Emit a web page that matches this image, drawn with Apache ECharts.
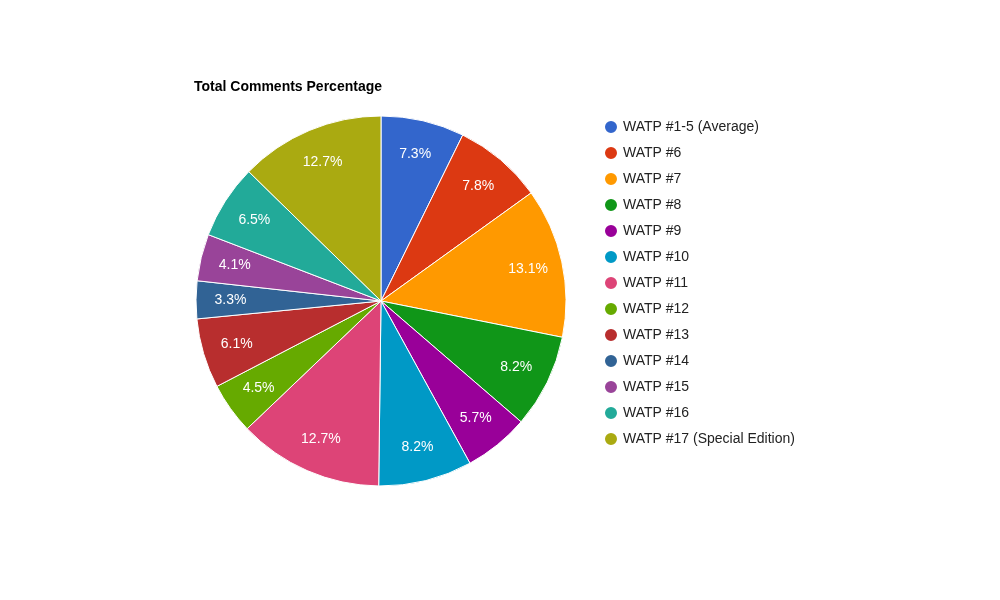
<!DOCTYPE html>
<html><head><meta charset="utf-8">
<script src="https://cdn.jsdelivr.net/npm/echarts@6/dist/echarts.min.js"></script>
<style>html,body{margin:0;padding:0;background:#fff}#c{width:1000px;height:600px}</style>
</head><body><div id="c"></div>
<script>
const categories = ["WATP #1-5 (Average)","WATP #6","WATP #7","WATP #8","WATP #9","WATP #10","WATP #11","WATP #12","WATP #13","WATP #14","WATP #15","WATP #16","WATP #17 (Special Edition)"];
const values = [7.3,7.8,13.1,8.2,5.7,8.2,12.7,4.5,6.1,3.3,4.1,6.5,12.7];
const colors = ["#3366cc","#dc3912","#ff9900","#109618","#990099","#0099c6","#dd4477","#66aa00","#b82e2e","#316395","#994499","#22aa99","#aaaa11"];
const data = categories.map((n,i)=>({name:n,value:values[i]}));
const chart = echarts.init(document.getElementById('c'));
chart.setOption({
  animation:false,
  color:colors,
  title:{text:'Total Comments Percentage',left:189,top:75,textStyle:{fontFamily:'Arial, Liberation Sans',fontSize:14,fontWeight:'bold',color:'#000'}},
  legend:{orient:'vertical',left:598,top:114,icon:'circle',itemWidth:14,itemHeight:14,itemGap:10,
    textStyle:{fontFamily:'Arial, Liberation Sans',fontSize:14,color:'#222'},data:categories},
  series:[
    {type:'pie',center:[381,301],radius:[0,185],startAngle:90,clockwise:true,
     itemStyle:{borderColor:'#fff',borderWidth:1},label:{show:false},labelLine:{show:false},data:data,silent:true},
    {type:'pie',center:[381,301],radius:[110,185],startAngle:90,clockwise:true,silent:true,
     itemStyle:{color:'transparent',borderWidth:0},legendHoverLink:false,
     label:{show:true,position:'inside',color:'#fff',fontFamily:'Arial, Liberation Sans',fontSize:14,
       formatter:p=>p.value.toFixed(1)+'%'},
     labelLine:{show:false},data:data.map(d=>({name:d.name+' ',value:d.value}))}
  ]
});
</script></body></html>
